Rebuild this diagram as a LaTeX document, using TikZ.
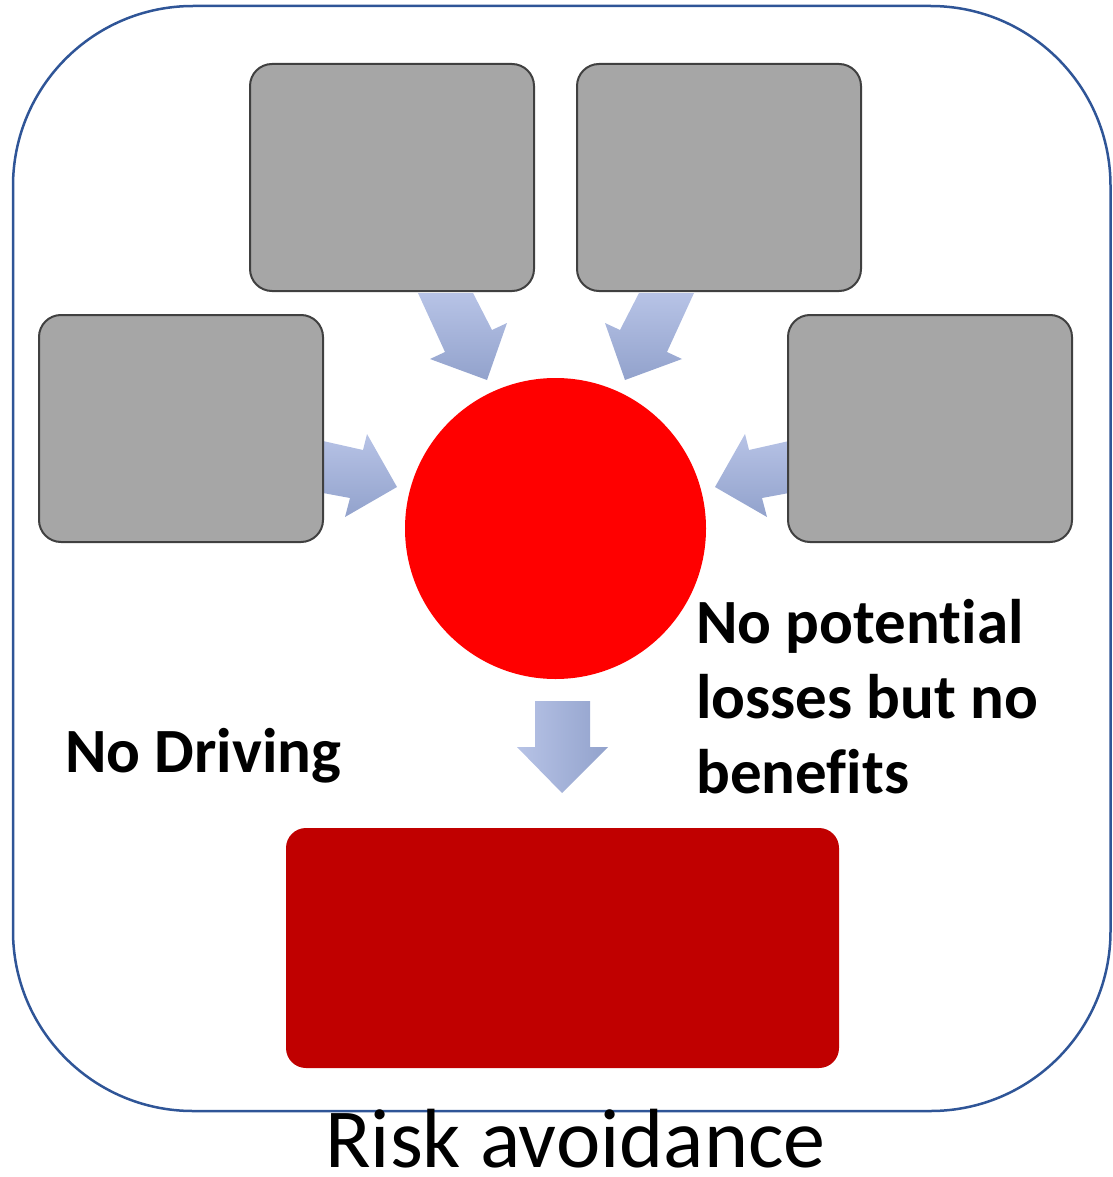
\documentclass[tikz,border=0pt]{standalone}
\usepackage{fontspec}
\setmainfont{Carlito}[Ligatures=NoCommon]
\begin{document}
\begin{tikzpicture}[x=1pt,y=-1pt,
  frame/.style={draw={rgb,255:red,47;green,85;blue,151}, line width=2.5pt, rounded corners=180pt},
  graybox/.style={draw={rgb,255:red,64;green,64;blue,64}, fill={rgb,255:red,166;green,166;blue,166},
    line width=2pt, rounded corners=22pt, minimum width=284pt, minimum height=227pt, inner sep=0pt},
  core/.style={circle, fill={rgb,255:red,255;green,0;blue,0}, minimum size=301pt, inner sep=0pt},
  outcome/.style={fill={rgb,255:red,192;green,0;blue,0}, rounded corners=20pt,
    minimum width=553pt, minimum height=240pt, inner sep=0pt},
  blockarrow/.style={top color={rgb,255:red,183;green,195;blue,230},
    bottom color={rgb,255:red,146;green,162;blue,204}},
  downarrow/.style={left color={rgb,255:red,183;green,195;blue,230},
    right color={rgb,255:red,146;green,162;blue,204}},
  boldlabel/.style={font=\fontsize{63}{75}\selectfont\bfseries, inner sep=0pt, align=left}
]
\useasboundingbox (0,0) rectangle (1112,1177);

% outer frame
\draw[frame] (13,6) rectangle (1110.5,1111);

% block arrows pointing at the centre circle
\shade[blockarrow] (418,293) -- (473,293) -- (492,330) -- (507,323) -- (487,380)
  -- (430,359) -- (445,352) -- cycle;
\shade[blockarrow] (694,293) -- (639,293) -- (620,330) -- (605,323) -- (625,380)
  -- (682,359) -- (667,352) -- cycle;
\shade[blockarrow] (323,441) -- (363,450) -- (367,434) -- (397,487) -- (345,517)
  -- (350,498) -- (323,493) -- cycle;
\shade[blockarrow] (789,441) -- (749,450) -- (745,434) -- (715,487) -- (767,517)
  -- (762,498) -- (789,493) -- cycle;
\shade[downarrow] (535,701) -- (590,701) -- (590,747) -- (608,747) -- (562,793)
  -- (517,747) -- (535,747) -- cycle;

% boxes and circle
\node[graybox] (tl) at (392,177.5) {};
\node[graybox] (tr) at (719,177.5) {};
\node[graybox] (ml) at (181,428.5) {};
\node[graybox] (mr) at (930,428.5) {};
\node[core] (c) at (555.5,528.5) {};
\node[outcome] (res) at (562.5,948) {};

% labels
\node[boldlabel, anchor=base west] (nodrive) at (65,772) {No Driving};
\node[boldlabel, anchor=base west] (nolosses) at (696,793)
  {No potential\\losses but no\\benefits};
\node[font=\fontsize{84}{100}\selectfont, inner sep=0pt, anchor=base west] (title)
  at (325,1167) {Risk avoidance};
\end{tikzpicture}
\end{document}
